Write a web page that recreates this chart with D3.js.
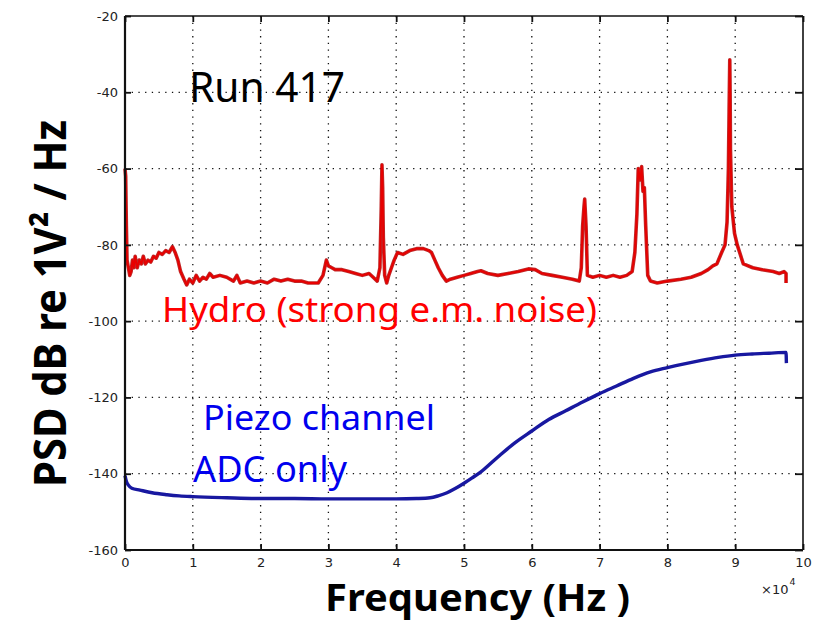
<!DOCTYPE html>
<html>
<head>
<meta charset="utf-8">
<script src="https://cdn.jsdelivr.net/npm/d3@7"></script>
<style>
  body { margin: 0; background: #fff; }
  svg { display: block; }
</style>
</head>
<body>
<svg id="chart" width="815" height="622"></svg>
<script>
// ---- data (frequency in units of 10^4 Hz, PSD in dB) ----
const xTicks = [0, 1, 2, 3, 4, 5, 6, 7, 8, 9, 10];
const yTicks = [-20, -40, -60, -80, -100, -120, -140, -160];

const hydroFreq = [0.00,0.01,0.02,0.03,0.05,0.07,0.09,0.11,0.13,0.15,0.18,0.21,0.24,0.27,0.30,0.34,0.38,0.42,0.46,0.50,0.55,0.60,0.65,0.70,0.74,0.78,0.82,0.87,0.91,0.95,1.00,1.05,1.10,1.15,1.20,1.25,1.30,1.40,1.50,1.60,1.65,1.70,1.80,1.90,2.00,2.10,2.20,2.30,2.40,2.50,2.60,2.70,2.85,2.92,2.97,3.00,3.05,3.10,3.20,3.30,3.40,3.50,3.60,3.66,3.72,3.76,3.78,3.79,3.80,3.81,3.83,3.86,3.89,3.93,3.97,4.02,4.10,4.20,4.30,4.40,4.48,4.52,4.57,4.62,4.68,4.74,4.80,4.90,5.00,5.10,5.20,5.25,5.35,5.50,5.65,5.80,5.95,6.05,6.15,6.30,6.45,6.60,6.70,6.73,6.75,6.77,6.78,6.80,6.82,6.90,7.00,7.10,7.20,7.30,7.40,7.48,7.52,7.55,7.57,7.60,7.62,7.64,7.66,7.68,7.71,7.75,7.85,8.00,8.20,8.35,8.50,8.60,8.67,8.73,8.80,8.85,8.88,8.90,8.91,8.92,8.925,8.93,8.95,8.99,9.03,9.12,9.26,9.40,9.56,9.65,9.72,9.75,9.75];
const hydroDb   = [-60,-62,-75,-84,-86,-88,-87,-84,-86,-83,-86,-84,-85,-83,-85,-84,-84.5,-83,-83.5,-82,-82.5,-81.5,-82,-80.5,-82,-84,-87,-89,-90.5,-89,-90,-88,-89.5,-88.5,-89,-87.5,-88.5,-88,-88.5,-89.5,-88,-90,-89.5,-90,-89.5,-90,-89,-89.5,-89,-89.5,-89.5,-90,-90,-88,-84,-85.5,-86,-86.5,-86.5,-87,-87.5,-88,-87.5,-88.5,-89.5,-86,-70,-59,-65,-78,-88,-90,-88,-86,-84,-82,-82.5,-81.5,-81,-81,-81.5,-82,-84,-86,-88,-89.5,-89,-88.5,-88,-87.5,-87,-86.8,-87.5,-88,-87.5,-87,-86.3,-86.5,-87.5,-88,-88.5,-89,-89.5,-86,-75,-70,-68,-75,-88,-88.5,-88,-88.5,-88,-88.5,-88,-87,-82,-72,-60,-63,-59.5,-66,-65,-75,-88,-89.5,-90,-89.5,-89,-88.5,-87.5,-86.5,-85.5,-85,-82,-80,-74,-60,-45,-31.5,-40,-55,-70,-77,-80,-85,-86,-86.5,-87,-87.5,-87,-87.5,-90];

const piezoFreq = [0.00,0.02,0.05,0.10,0.22,0.40,0.62,0.80,1.00,1.50,2.00,2.50,3.00,3.50,4.00,4.30,4.50,4.62,4.75,4.87,5.00,5.12,5.25,5.50,5.75,6.00,6.25,6.50,6.75,7.00,7.25,7.50,7.75,8.00,8.25,8.50,8.75,9.00,9.25,9.50,9.75,9.755];
const piezoDb   = [-140.5,-142,-143,-143.8,-144.3,-145,-145.5,-145.8,-146,-146.3,-146.5,-146.5,-146.6,-146.6,-146.6,-146.5,-146.3,-145.8,-145,-143.9,-142.5,-141.1,-139.5,-135.6,-131.9,-128.8,-125.8,-123.5,-121.2,-119,-117,-115,-113.3,-112.2,-111.2,-110.3,-109.5,-108.9,-108.6,-108.4,-108.2,-111];

const labels = {
  run: "Run 417",
  hydro: "Hydro (strong e.m. noise)",
  piezo1: "Piezo channel",
  piezo2: "ADC only",
  xTitle: "Frequency (Hz )",
  yTitle: "PSD dB re 1V\u00B2 / Hz"
};

// ---- layout ----
const svg = d3.select("#chart");
const L = 125, R = 803, T = 16, B = 550;
const x = d3.scaleLinear().domain([0, 10]).range([L, R]);
const y = d3.scaleLinear().domain([-160, -20]).range([B, T]);

// grid
const grid = svg.append("g").attr("stroke", "#111").attr("stroke-width", 1.3)
  .attr("stroke-dasharray", "1.3,5.4");
grid.selectAll("line.v").data(xTicks.slice(1, -1)).join("line")
  .attr("x1", d => x(d)).attr("x2", d => x(d)).attr("y1", T).attr("y2", B);
grid.selectAll("line.h").data(yTicks.slice(1, -1)).join("line")
  .attr("y1", d => y(d)).attr("y2", d => y(d)).attr("x1", L).attr("x2", R);

// data lines
const hydro = hydroFreq.map((f, i) => [f, hydroDb[i]]);
const piezo = piezoFreq.map((f, i) => [f, piezoDb[i]]);
const line = d3.line().x(d => x(d[0])).y(d => y(d[1]));
const smooth = d3.line().x(d => x(d[0])).y(d => y(d[1])).curve(d3.curveMonotoneX);

svg.append("path").datum(hydro).attr("d", line).attr("fill", "none")
  .attr("stroke", "#b81010").attr("stroke-width", 3.6).attr("stroke-linejoin", "round").attr("opacity", 0.9);
svg.append("path").datum(hydro).attr("d", line).attr("fill", "none")
  .attr("stroke", "#e80000").attr("stroke-width", 1.8).attr("stroke-linejoin", "round");

svg.append("path").datum(piezo).attr("d", smooth).attr("fill", "none")
  .attr("stroke", "#1818a0").attr("stroke-width", 3.4).attr("stroke-linejoin", "round");

// axes
const fmt = d => String(d);
const xAxisB = d3.axisBottom(x).tickValues(xTicks).tickSize(-6).tickPadding(8).tickFormat(fmt);
const xAxisT = d3.axisTop(x).tickValues(xTicks).tickSize(-6).tickFormat("");
const yAxisL = d3.axisLeft(y).tickValues(yTicks).tickSize(-6).tickPadding(7).tickFormat(fmt);
const yAxisR = d3.axisRight(y).tickValues(yTicks).tickSize(-8).tickFormat("");

function style(g, w) {
  g.select(".domain").attr("stroke", "#111").attr("stroke-width", w);
  g.selectAll(".tick line").attr("stroke", "#111").attr("stroke-width", 1.8);
  g.selectAll(".tick text").attr("fill", "#222").attr("font-size", 13)
    .attr("font-family", "'DejaVu Sans', sans-serif");
}
svg.append("g").attr("transform", `translate(0,${B})`).call(xAxisB).call(g => style(g, 2.2))
  .call(g => g.select(".domain").attr("d", `M${L},0H${R}`));
svg.append("g").attr("transform", `translate(0,${T})`).call(xAxisT).call(g => style(g, 1.6))
  .call(g => g.select(".domain").attr("d", `M${L},0H${R}`));
svg.append("g").attr("transform", `translate(${L},0)`).call(yAxisL).call(g => style(g, 2.2))
  .call(g => g.select(".domain").attr("d", `M0,${T}V${B}`));
svg.append("g").attr("transform", `translate(${R},0)`).call(yAxisR).call(g => style(g, 1.6))
  .call(g => g.select(".domain").attr("d", `M0,${T}V${B}`));

// x10^4 exponent
const ex = svg.append("text").attr("x", 761).attr("y", 594).attr("fill", "#222")
  .attr("font-family", "'DejaVu Sans', sans-serif").attr("font-size", 13);
ex.append("tspan").text("\u00D710");
ex.append("tspan").attr("dy", -9).attr("dx", 1).attr("font-size", 9.5).text("4");

// annotations
function fit(sel, w) {
  sel.attr("textLength", w).attr("lengthAdjust", "spacingAndGlyphs");
  return sel;
}
const ann = "'Noto Sans', 'Open Sans', sans-serif";
fit(svg.append("text").attr("x", 189).attr("y", 102).attr("font-family", ann)
  .attr("font-size", 41).attr("fill", "#000").text(labels.run), 156);
fit(svg.append("text").attr("x", 162).attr("y", 322).attr("font-family", ann)
  .attr("font-size", 35).attr("fill", "#ff0000").text(labels.hydro), 435);
fit(svg.append("text").attr("x", 203).attr("y", 430).attr("font-family", ann)
  .attr("font-size", 34).attr("fill", "#0000ee").text(labels.piezo1), 232);
fit(svg.append("text").attr("x", 193).attr("y", 482).attr("font-family", ann)
  .attr("font-size", 36).attr("fill", "#0000ee").text(labels.piezo2), 154);

fit(svg.append("text").attr("x", 325).attr("y", 611).attr("font-family", ann)
  .attr("font-weight", "bold").attr("font-size", 37).attr("fill", "#000").text(labels.xTitle), 305);
fit(svg.append("text").attr("transform", "translate(66,487) rotate(-90)")
  .attr("font-family", ann).attr("font-weight", "bold").attr("font-size", 44)
  .attr("fill", "#000").text(labels.yTitle), 367);
</script>
</body>
</html>
